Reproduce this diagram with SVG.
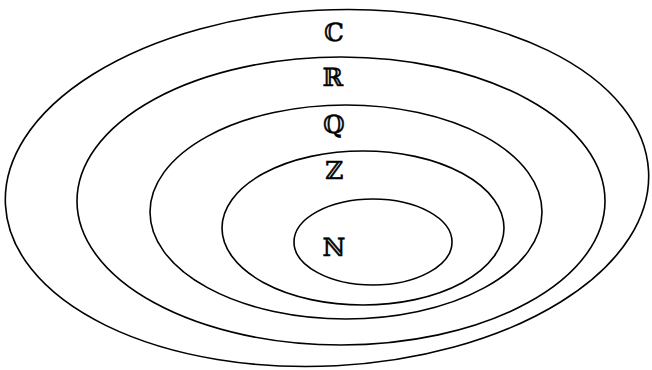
<svg xmlns="http://www.w3.org/2000/svg" width="652" height="370" viewBox="0 0 652 370">
<style>
.s{fill:none;stroke:#000;stroke-width:1.6}
.t{font-family:"DejaVu Serif","DejaVu Sans",serif;font-size:25px;text-anchor:middle;fill:#000;stroke:#000;stroke-width:0.5}
</style>
<rect width="652" height="370" fill="#fff"/>
<g id="C"><ellipse class="s" cx="327" cy="188" rx="322" ry="178" transform="rotate(-3 327 188)"/><text class="t" x="334" y="41">ℂ</text></g>
<g id="R"><ellipse class="s" cx="341" cy="201" rx="264" ry="144"/><text class="t" x="333" y="86">ℝ</text></g>
<g id="Q"><ellipse class="s" cx="346" cy="212" rx="196" ry="107"/><text class="t" x="334" y="133">ℚ</text></g>
<g id="Z"><ellipse class="s" cx="363" cy="228" rx="141" ry="77"/><text class="t" x="334" y="179">ℤ</text></g>
<g id="N"><ellipse class="s" cx="373" cy="242" rx="79" ry="43"/><text class="t" x="334" y="256">ℕ</text></g>
<g id="connectors"/>
</svg>
